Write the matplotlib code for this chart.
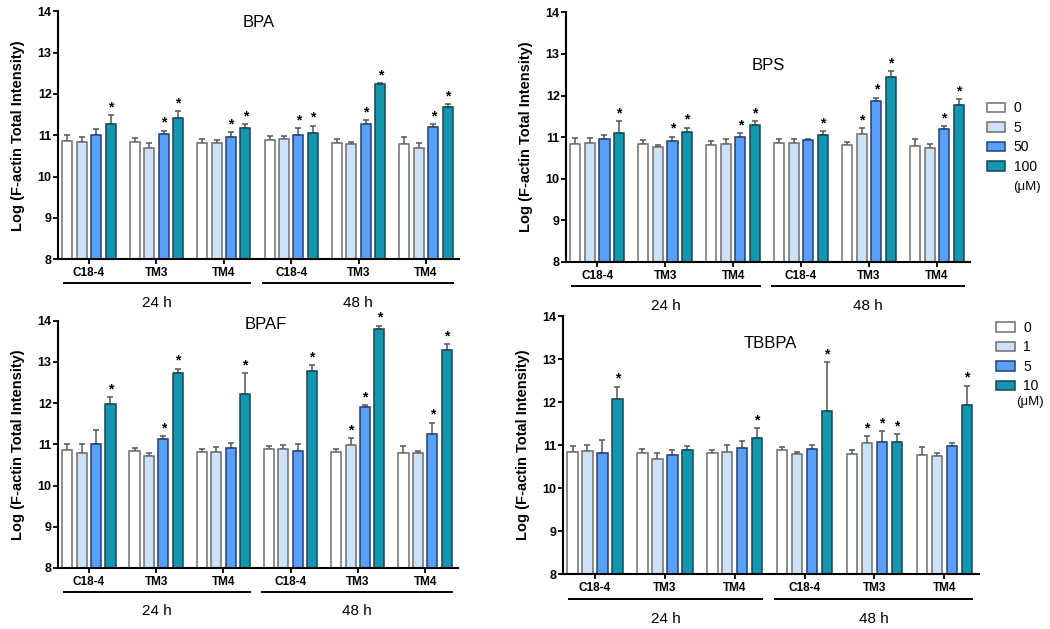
import numpy as np
import matplotlib
matplotlib.use("Agg")
import matplotlib.pyplot as plt
from matplotlib.patches import Patch
import matplotlib.transforms as mtransforms

plt.rcParams['font.family'] = ['Liberation Sans', 'DejaVu Sans']

# groups (x positions) and time points
cells = ["C18-4", "TM3", "TM4", "C18-4", "TM3", "TM4"]
times = ["24 h", "48 h"]
conc_bpa = ["0", "5", "50", "100"]
conc_tbbpa = ["0", "1", "5", "10"]

# means per group (rows) and concentration (cols)
bpa_mean = [[10.86, 10.84, 11.01, 11.26], [10.83, 10.70, 11.02, 11.41], [10.82, 10.80, 10.95, 11.18],
            [10.89, 10.90, 11.01, 11.06], [10.82, 10.78, 11.27, 12.23], [10.79, 10.69, 11.20, 11.68]]
bpa_err = [[0.14, 0.12, 0.15, 0.23], [0.11, 0.12, 0.09, 0.17], [0.10, 0.08, 0.13, 0.09],
           [0.09, 0.08, 0.17, 0.17], [0.08, 0.06, 0.09, 0.03], [0.17, 0.11, 0.07, 0.08]]
bpa_sig = [[0, 0, 0, 1], [0, 0, 1, 1], [0, 0, 1, 1], [0, 0, 1, 1], [0, 0, 1, 1], [0, 0, 1, 1]]

bps_mean = [[10.84, 10.87, 10.95, 11.09], [10.83, 10.76, 10.91, 11.12], [10.82, 10.84, 11.01, 11.29],
            [10.87, 10.85, 10.92, 11.06], [10.81, 11.08, 11.86, 12.45], [10.79, 10.75, 11.20, 11.77]]
bps_err = [[0.15, 0.11, 0.09, 0.30], [0.10, 0.04, 0.10, 0.11], [0.08, 0.11, 0.09, 0.09],
           [0.09, 0.11, 0.04, 0.08], [0.08, 0.13, 0.09, 0.14], [0.17, 0.08, 0.07, 0.15]]
bps_sig = [[0, 0, 0, 1], [0, 0, 1, 1], [0, 0, 1, 1], [0, 0, 0, 1], [0, 1, 1, 1], [0, 0, 1, 1]]

bpaf_mean = [[10.86, 10.79, 11.00, 11.97], [10.83, 10.72, 11.12, 12.73], [10.82, 10.82, 10.92, 12.22],
             [10.88, 10.90, 10.85, 12.78], [10.81, 10.98, 11.90, 13.80], [10.79, 10.79, 11.25, 13.29]]
bpaf_err = [[0.14, 0.21, 0.35, 0.18], [0.09, 0.06, 0.08, 0.11], [0.08, 0.11, 0.12, 0.51],
            [0.07, 0.09, 0.17, 0.14], [0.09, 0.18, 0.06, 0.08], [0.17, 0.06, 0.28, 0.15]]
bpaf_sig = [[0, 0, 0, 1], [0, 0, 1, 1], [0, 0, 0, 1], [0, 0, 0, 1], [0, 1, 1, 1], [0, 0, 1, 1]]

tbbpa_mean = [[10.85, 10.86, 10.81, 12.07], [10.82, 10.67, 10.78, 10.89], [10.81, 10.84, 10.93, 11.16],
              [10.88, 10.80, 10.91, 11.80], [10.80, 11.05, 11.08, 11.08], [10.78, 10.75, 10.97, 11.94]]
tbbpa_err = [[0.13, 0.14, 0.31, 0.29], [0.09, 0.15, 0.11, 0.10], [0.08, 0.16, 0.17, 0.23],
             [0.08, 0.04, 0.09, 1.13], [0.09, 0.16, 0.25, 0.18], [0.18, 0.07, 0.08, 0.44]]
tbbpa_sig = [[0, 0, 0, 1], [0, 0, 0, 0], [0, 0, 0, 1], [0, 0, 0, 1], [0, 1, 1, 1], [0, 0, 0, 1]]

colors = ["#ffffff", "#cde1f9", "#58a0fa", "#1596b0"]
edges = ["#6e6e6e", "#6e6e6e", "#26406e", "#174650"]

fig = plt.figure(figsize=(10.5, 6.29), dpi=100)


def panel(rect, mean, err, sig, title, title_xy):
    ax = fig.add_axes(rect)
    mean = np.array(mean)
    err = np.array(err)
    x = np.arange(len(cells))
    step = 0.214
    w = 0.15
    for j in range(4):
        xs = x + (j - 1.5) * step
        ax.errorbar(xs, mean[:, j], yerr=[np.zeros(len(x)), err[:, j]], fmt="none",
                    ecolor="#555555", elinewidth=1.1, capsize=2.5, capthick=1.1, zorder=1)
        ax.bar(xs, mean[:, j] - 8, bottom=8, width=w, color=colors[j], edgecolor=edges[j],
               linewidth=1.1, zorder=2)
        for i in range(len(x)):
            if sig[i][j]:
                ax.text(xs[i], mean[i, j] + err[i, j] + 0.02, "*", ha="center", va="bottom",
                        fontsize=10, fontweight="bold")
    ax.set_ylim(8, 14)
    ax.set_xlim(-0.46, 5.49)
    ax.set_yticks(range(8, 15))
    ax.set_xticks(x)
    ax.set_xticklabels(cells, fontweight="bold", fontsize=8.5)
    for lab in ax.get_yticklabels():
        lab.set_fontweight("bold")
        lab.set_fontsize(9)
    ax.tick_params(axis="both", width=1.3, length=3.5, pad=2)
    ax.tick_params(axis="y", pad=1)
    for s in ["top", "right"]:
        ax.spines[s].set_visible(False)
    for s in ["left", "bottom"]:
        ax.spines[s].set_linewidth(1.5)
    ax.set_ylabel("Log (F-actin Total Intensity)", fontweight="bold", fontsize=10.5, labelpad=9)
    tr = mtransforms.blended_transform_factory(ax.transData, ax.transAxes)
    for (x0, x1), t in zip([(-0.37, 2.39), (2.58, 5.40)], times):
        ax.plot([x0, x1], [-0.097, -0.097], color="black", lw=1.4, transform=tr, clip_on=False)
        ax.text((x0 + x1) / 2, -0.175, t, ha="center", va="center", fontsize=11, transform=tr)
    ax.text(title_xy[0], title_xy[1], title, ha="center", va="center", fontsize=12,
            transform=ax.transAxes)
    return ax


panel([0.0552, 0.588, 0.382, 0.394], bpa_mean, bpa_err, bpa_sig, "BPA", (0.5, 0.955))
panel([0.539, 0.5835, 0.385, 0.397], bps_mean, bps_err, bps_sig, "BPS", (0.5, 0.788))
panel([0.0552, 0.097, 0.381, 0.393], bpaf_mean, bpaf_err, bpaf_sig, "BPAF", (0.52, 0.985))
panel([0.536, 0.0874, 0.396, 0.410], tbbpa_mean, tbbpa_err, tbbpa_sig, "TBBPA", (0.5, 0.895))


def legend(labels, anchor, unit_xy):
    handles = [Patch(facecolor=c, edgecolor=e, linewidth=1.1) for c, e in zip(colors, edges)]
    fig.legend(handles, labels, loc="upper left", bbox_to_anchor=anchor, frameon=False,
               fontsize=10, handlelength=1.35, handleheight=0.7, labelspacing=0.4,
               handletextpad=0.6, borderpad=0)
    fig.text(unit_xy[0], unit_xy[1], "(\u03bcM)", fontsize=9.5, ha="left", va="center")


legend(conc_bpa, (0.933, 0.850), (0.965, 0.703))
legend(conc_tbbpa, (0.942, 0.501), (0.968, 0.361))

fig.savefig("out.png", dpi=100)
